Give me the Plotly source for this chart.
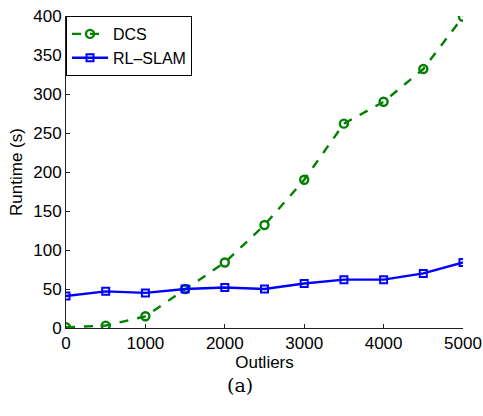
import plotly.graph_objects as go

outliers = [0, 500, 1000, 1500, 2000, 2500, 3000, 3500, 4000, 4500, 5000]
dcs = [1, 3, 15, 50, 84, 132, 190, 262, 290, 332, 399]
rlslam = [41, 47, 45, 50, 52, 50, 57, 62, 62, 70, 84]

fig = go.Figure()
fig.add_trace(go.Scatter(
    x=outliers, y=dcs, name="DCS", mode="lines+markers",
    line=dict(color="#008000", width=2.4, dash="dash"),
    marker=dict(symbol="circle-open", size=8, color="#008000", line=dict(width=2.4)),
))
fig.add_trace(go.Scatter(
    x=outliers, y=rlslam, name="RL\u2013SLAM", mode="lines+markers",
    line=dict(color="#0000ff", width=2.4),
    marker=dict(symbol="square-open", size=7, color="#0000ff", line=dict(width=2)),
))

FONT = "Liberation Sans, Arial, sans-serif"
axis_common = dict(
    showgrid=False, zeroline=False, showline=True, linecolor="#222222", linewidth=1,
    ticks="inside", ticklen=4, tickcolor="#222222", mirror=False, automargin=False,
    tickfont=dict(family=FONT, size=17, color="black"),
)
fig.update_layout(
    width=483, height=416,
    margin=dict(l=66, r=20, t=16, b=88),
    plot_bgcolor="white", paper_bgcolor="white",
    font=dict(family=FONT, size=17, color="black"),
    xaxis=dict(range=[0, 5000], tickvals=[0, 1000, 2000, 3000, 4000, 5000],
               title=dict(text="Outliers", standoff=0, font=dict(size=17)), **axis_common),
    yaxis=dict(range=[0, 400], tickvals=[0, 50, 100, 150, 200, 250, 300, 350, 400],
               title=dict(text="Runtime (s)", standoff=6, font=dict(size=17)), **axis_common),
    legend=dict(x=0, y=1, xanchor="left", yanchor="top", bordercolor="black", borderwidth=1,
                bgcolor="white", font=dict(size=16), tracegroupgap=0, itemwidth=36),
    showlegend=True,
)
fig.add_annotation(text="(a)", xref="paper", yref="paper", x=0.438, y=-0.183,
                   xanchor="center", yanchor="middle", showarrow=False,
                   font=dict(family="DejaVu Serif, Liberation Serif, serif", size=19, color="black"))
fig.write_html("out.html")
